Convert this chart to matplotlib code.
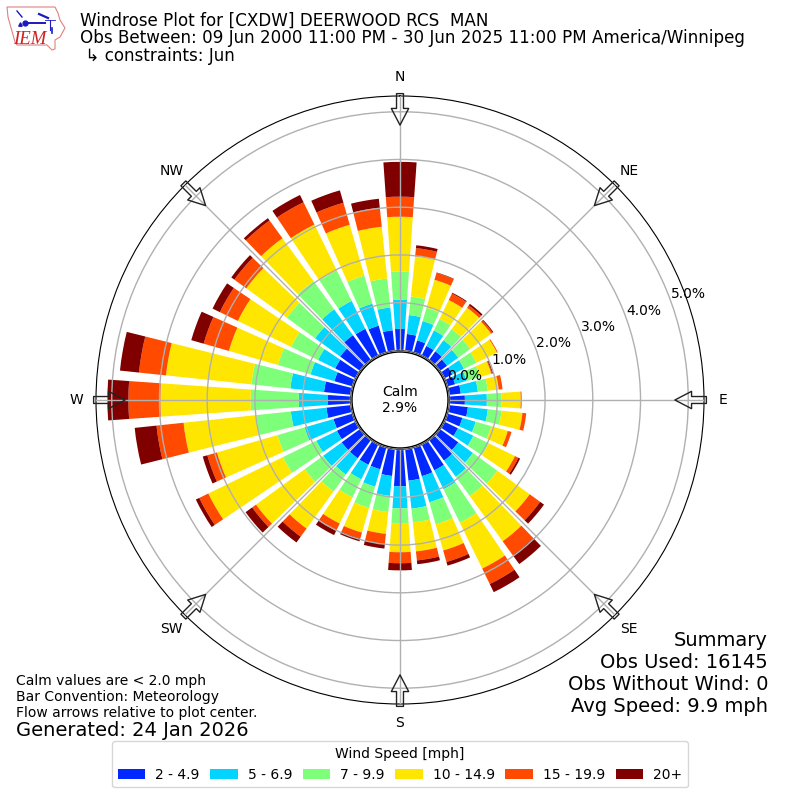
import numpy as np
import matplotlib
matplotlib.use("Agg")
import matplotlib.pyplot as plt
from matplotlib.patches import Circle, Patch, Polygon

# percent of obs per direction bin, 10 degree steps clockwise from north
directions = np.arange(0, 360, 10)
speed_2_5 = [0.45, 0.35, 0.26, 0.22, 0.22, 0.18, 0.18, 0.16, 0.24, 0.32, 0.39, 0.32,
             0.31, 0.47, 0.53, 0.60, 0.62, 0.66, 0.77, 0.56, 0.47, 0.47, 0.47, 0.47,
             0.43, 0.41, 0.51, 0.47, 0.56, 0.39, 0.47, 0.51, 0.64, 0.62, 0.58, 0.43]
speed_5_7 = [0.61, 0.40, 0.42, 0.36, 0.29, 0.29, 0.27, 0.25, 0.36, 0.46, 0.42, 0.29,
             0.36, 0.38, 0.42, 0.44, 0.57, 0.59, 0.46, 0.42, 0.38, 0.34, 0.42, 0.48,
             0.48, 0.63, 0.75, 0.61, 0.71, 0.52, 0.40, 0.65, 0.67, 0.65, 0.48, 0.48]
speed_7_10 = [0.59, 0.39, 0.29, 0.27, 0.29, 0.31, 0.29, 0.29, 0.21, 0.31, 0.29, 0.34,
              0.36, 0.63, 0.50, 0.78, 0.48, 0.29, 0.31, 0.34, 0.46, 0.42, 0.44, 0.48,
              0.78, 0.59, 0.73, 1.01, 0.82, 0.71, 0.63, 0.73, 0.73, 0.71, 0.61, 0.61]
speed_10_15 = [1.15, 0.85, 0.61, 0.44, 0.55, 0.54, 0.48, 0.25, 0.23, 0.40, 0.44, 0.36,
               0.61, 0.84, 1.17, 1.07, 0.57, 0.61, 0.61, 0.46, 0.54, 0.61, 0.96, 1.26,
               1.74, 1.32, 1.53, 1.89, 1.80, 1.07, 1.24, 1.05, 1.11, 1.07, 1.11, 1.09]
speed_15_20 = [0.42, 0.17, 0.15, 0.15, 0.06, 0.04, 0.02, 0.02, 0.08, 0.02, 0.08, 0.08,
               0.08, 0.27, 0.36, 0.36, 0.25, 0.19, 0.23, 0.21, 0.13, 0.17, 0.21, 0.10,
               0.21, 0.21, 0.57, 0.67, 0.57, 0.55, 0.42, 0.31, 0.46, 0.52, 0.48, 0.40]
speed_20 = [0.73, 0.06, 0.01, 0.02, 0.04, 0.02, 0.00, 0.02, 0.00, 0.00, 0.00, 0.00,
            0.04, 0.10, 0.23, 0.19, 0.08, 0.08, 0.15, 0.10, 0.06, 0.10, 0.15, 0.17,
            0.08, 0.10, 0.46, 0.44, 0.40, 0.27, 0.17, 0.08, 0.06, 0.17, 0.27, 0.19]

series = [speed_2_5, speed_5_7, speed_7_10, speed_10_15, speed_15_20, speed_20]
labels = ["2 - 4.9", "5 - 6.9", "7 - 9.9", "10 - 14.9", "15 - 19.9", "20+"]
colors = ["#0028ff", "#00d4ff", "#7dff7a", "#ffe600", "#ff4a00", "#800000"]
rings = [0, 1, 2, 3, 4, 5]
compass = ["N", "NE", "E", "SE", "S", "SW", "W", "NW"]
summary = ["Summary", "Obs Used: 16145", "Obs Without Wind: 0", "Avg Speed: 9.9 mph"]

fig = plt.figure(figsize=(8, 8), dpi=100)
ax = fig.add_axes([0.12, 0.12, 0.76, 0.76], projection="polar")
ax.set_theta_zero_location("N")
ax.set_theta_direction(-1)

theta = np.radians(directions)
bottom = np.zeros(len(directions))
for vals, c in zip(series, colors):
    ax.bar(theta, vals, width=np.radians(8), bottom=bottom, color=c, linewidth=0)
    bottom = bottom + np.array(vals)

ax.set_rlim(0, 5.33)
ax.set_rorigin(-1.04)
ax.set_rticks(rings)
ax.set_yticklabels(["%.1f%%" % r for r in rings], fontsize=10)
ax.set_rlabel_position(70)
ax.set_xticks(np.radians(np.arange(0, 360, 45)))
ax.set_xticklabels(compass, fontsize=10)
ax.set_axisbelow(False)
ax.grid(True, color="#b0b0b0", linewidth=1)

# flow arrows on the compass points, see-through like the original
for a in np.arange(0, 360, 45):
    ax.annotate("", xy=(np.radians(a), 4.72), xytext=(np.radians(a), 5.38), annotation_clip=False,
                arrowprops=dict(facecolor="none", edgecolor="#222222", width=5, headwidth=12.5,
                                headlength=12, linewidth=1, shrink=0), zorder=5)

# calm hole in the middle
ax.add_patch(Circle((0.5, 0.5), 48 / 608, transform=ax.transAxes, facecolor="white",
                    edgecolor="black", linewidth=1, zorder=4, clip_on=False))
ax.text(0.5, 0.5, "Calm\n2.9%", transform=ax.transAxes, ha="center", va="center",
        fontsize=10, zorder=6)

fig.text(80 / 800, 1 - 26 / 800, "Windrose Plot for [CXDW] DEERWOOD RCS  MAN", fontsize=12.02)
fig.text(80 / 800, 1 - 43 / 800,
         "Obs Between: 09 Jun 2000 11:00 PM - 30 Jun 2025 11:00 PM America/Winnipeg", fontsize=12.02)
fig.text(80 / 800, 1 - 61 / 800, " \u21b3 constraints: Jun", fontsize=12.02)

fig.text(16 / 800, 1 - 685 / 800, "Calm values are < 2.0 mph", fontsize=10)
fig.text(16 / 800, 1 - 701 / 800, "Bar Convention: Meteorology", fontsize=10)
fig.text(16 / 800, 1 - 717 / 800, "Flow arrows relative to plot center.", fontsize=10)
fig.text(16 / 800, 1 - 736 / 800, "Generated: 24 Jan 2026", fontsize=14)

for line, y in zip(summary, [646, 668, 690, 712]):
    fig.text(768 / 800, 1 - y / 800, line, fontsize=14, ha="right")

handles = [Patch(facecolor=c, label=l) for c, l in zip(colors, labels)]
fig.legend(handles=handles, title="Wind Speed [mph]", ncol=6, loc="lower center",
           bbox_to_anchor=(0.5, 0.007), fontsize=10, title_fontsize=10,
           handletextpad=0.7, columnspacing=0.76)

# logo, drawn by hand
logo = fig.add_axes([0, 1 - 60 / 800, 75 / 800, 60 / 800])
logo.set_xlim(0, 75)
logo.set_ylim(60, 0)
logo.axis("off")
logo.add_patch(Polygon([(7, 7), (55, 7), (58, 13), (60, 20), (65, 28), (60, 37), (55, 40), (55, 49),
                        (52, 50), (47, 45), (17, 45), (15, 42), (8, 17)],
                       closed=True, fill=False, edgecolor="#e08080", linewidth=0.8))
logo.plot([17, 22], [11, 17], color="#1a1ac0", linewidth=1)
logo.plot([25, 45], [23, 23], color="#1a1ac0", linewidth=1.4)
logo.plot([25], [23], "o", color="#1a1ac0", markersize=3.5)
logo.plot([45, 55], [20, 20], color="#1a1ac0", linewidth=0.6)
logo.plot([39, 48], [14, 18], color="#1a1ac0", linewidth=1.6)
logo.plot([50, 50], [20, 30], color="#1a1ac0", linewidth=0.8)
logo.plot([52, 52], [28, 33], color="#1a1ac0", linewidth=1.2)
logo.plot([20], [24], "^", color="#1a1ac0", markersize=2.5)
logo.text(30, 39, "IEM", color="#d02020", family="Liberation Serif", style="italic",
          fontsize=13.5, ha="center", va="center")

fig.savefig("out.png", dpi=100)
